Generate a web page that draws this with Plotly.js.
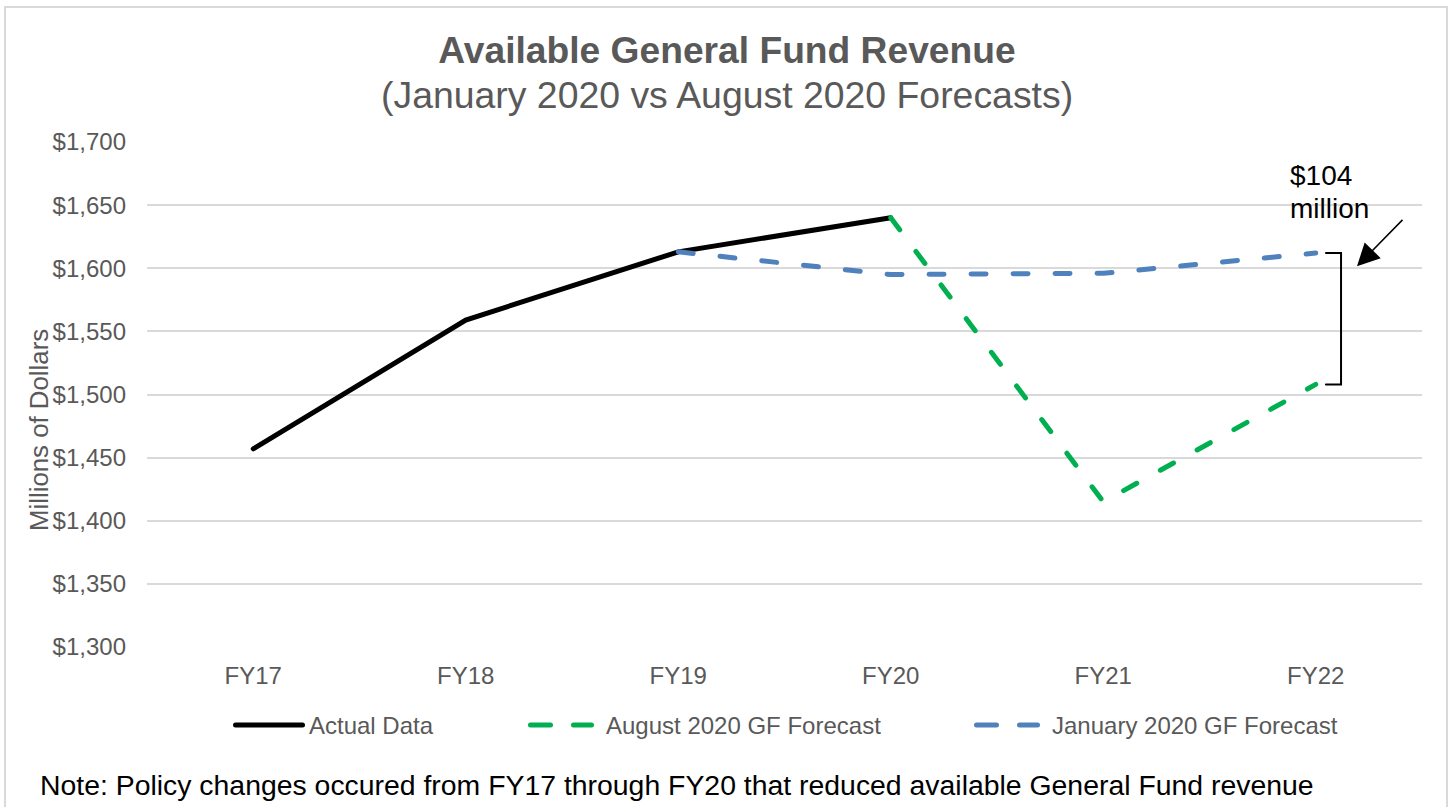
<!DOCTYPE html>
<html>
<head>
<meta charset="utf-8">
<script src="https://cdn.plot.ly/plotly-3.0.1.min.js"></script>
<style>
  html, body { margin: 0; padding: 0; background: #ffffff; }
  #chart { width: 1452px; height: 807px; }
  .scatterlayer .js-line { stroke-linecap: round; }
  .shapelayer path { stroke-linecap: round; }
</style>
</head>
<body>
<div id="chart"></div>
<script>
// ---- Data ----
var categories = ['FY17', 'FY18', 'FY19', 'FY20', 'FY21', 'FY22'];
var actualData = [1457, 1559, 1613, 1640, null, null];
var augustForecast = [null, null, null, 1640, 1415, 1508];
var januaryForecast = [null, null, 1613, 1595, 1596, 1612];
var seriesNames = ['Actual Data', 'August 2020 GF Forecast', 'January 2020 GF Forecast'];
var seriesColors = ['#000000', '#00B050', '#4F81BD'];
var titleText = 'Available General Fund Revenue';
var subtitleText = '(January 2020 vs August 2020 Forecasts)';
var yAxisTitle = 'Millions of Dollars';
var noteText = 'Note: Policy changes occured from FY17 through FY20 that reduced available General Fund revenue';
var gapUnit = 'million';

// ---- Layout geometry (pixels) ----
var W = 1452, H = 807;
var M = {l: 147, r: 30, t: 142, b: 160};
var PW = W - M.l - M.r, PH = H - M.t - M.b;
function px(x) { return (x - M.l) / PW; }
function py(y) { return (H - M.b - y) / PH; }

var dashPattern = '15px,27px';
var font = 'Liberation Sans, Arial, sans-serif';
var grey = '#595959';

var traces = [
  {x: categories, y: actualData, name: seriesNames[0], mode: 'lines',
   line: {color: seriesColors[0], width: 5}, connectgaps: false, hoverinfo: 'x+y'},
  {x: categories, y: augustForecast, name: seriesNames[1], mode: 'lines',
   line: {color: seriesColors[1], width: 5, dash: dashPattern}, hoverinfo: 'x+y'},
  {x: categories, y: januaryForecast, name: seriesNames[2], mode: 'lines',
   line: {color: seriesColors[2], width: 5, dash: dashPattern}, hoverinfo: 'x+y'}
];

var last = categories.length - 1;
var gap = januaryForecast[last] - augustForecast[last];

var shapes = [
  // outer chart border
  {type: 'rect', xref: 'paper', yref: 'paper', x0: px(5), x1: px(1447), y0: py(830), y1: py(7),
   line: {color: '#D9D9D9', width: 2}, fillcolor: 'rgba(0,0,0,0)', layer: 'below'},
  // bracket showing the gap at the last year
  {type: 'path', xref: 'x', yref: 'y',
   path: 'M ' + (last + 0.048) + ',' + januaryForecast[last] +
         ' L ' + (last + 0.119) + ',' + januaryForecast[last] +
         ' L ' + (last + 0.119) + ',' + augustForecast[last] +
         ' L ' + (last + 0.048) + ',' + augustForecast[last],
   line: {color: '#000000', width: 2}},
  // legend samples
  {type: 'line', xref: 'paper', yref: 'paper', x0: px(235.5), x1: px(302.5), y0: py(725), y1: py(725),
   line: {color: seriesColors[0], width: 5}},
  {type: 'line', xref: 'paper', yref: 'paper', x0: px(530.5), x1: px(591.5), y0: py(725), y1: py(725),
   line: {color: seriesColors[1], width: 5, dash: '20px,23px'}},
  {type: 'line', xref: 'paper', yref: 'paper', x0: px(976.5), x1: px(1037.5), y0: py(725), y1: py(725),
   line: {color: seriesColors[2], width: 5, dash: '20px,23px'}}
];

var annotations = [
  {text: subtitleText, xref: 'paper', yref: 'paper', x: px(727), y: py(95),
   xanchor: 'center', yanchor: 'middle', showarrow: false,
   font: {family: font, size: 37.4, color: grey}},
  {text: yAxisTitle, xref: 'paper', yref: 'paper', x: px(39), y: py(430), textangle: -90,
   xanchor: 'center', yanchor: 'middle', showarrow: false,
   font: {family: font, size: 25.8, color: grey}},
  // legend labels
  {text: seriesNames[0], xref: 'paper', yref: 'paper', x: px(307), y: py(725),
   xanchor: 'left', yanchor: 'middle', showarrow: false, font: {family: font, size: 24, color: grey}},
  {text: seriesNames[1], xref: 'paper', yref: 'paper', x: px(604), y: py(725),
   xanchor: 'left', yanchor: 'middle', showarrow: false, font: {family: font, size: 24, color: grey}},
  {text: seriesNames[2], xref: 'paper', yref: 'paper', x: px(1050), y: py(725),
   xanchor: 'left', yanchor: 'middle', showarrow: false, font: {family: font, size: 24, color: grey}},
  // note
  {text: noteText, xref: 'paper', yref: 'paper', x: px(38), y: py(785),
   xanchor: 'left', yanchor: 'middle', showarrow: false, font: {family: font, size: 28.4, color: '#000000'}},
  // gap label
  {text: '$' + gap, xref: 'paper', yref: 'paper', x: px(1288), y: py(176),
   xanchor: 'left', yanchor: 'middle', showarrow: false, font: {family: font, size: 28, color: '#000000'}},
  {text: gapUnit, xref: 'paper', yref: 'paper', x: px(1288), y: py(208),
   xanchor: 'left', yanchor: 'middle', showarrow: false, font: {family: font, size: 28, color: '#000000'}},
  // arrow
  {text: '', xref: 'x', yref: 'y', x: last + 0.194, y: 1601.5, ax: 47, ay: -48,
   showarrow: true, arrowhead: 2, arrowsize: 3, arrowwidth: 1.5, arrowcolor: '#000000'}
];

var layout = {
  width: W, height: H,
  margin: M,
  paper_bgcolor: '#ffffff', plot_bgcolor: '#ffffff',
  showlegend: false,
  font: {family: font, color: grey},
  title: {text: '<b>' + titleText + '</b>', x: px(727), xref: 'paper', xanchor: 'center',
          y: 1 - 50 / H, yref: 'container', yanchor: 'middle',
          font: {family: font, size: 37.2, color: grey}},
  xaxis: {type: 'category', range: [-0.5, categories.length - 0.5], showgrid: false, zeroline: false,
          showline: false, ticks: '', tickfont: {family: font, size: 24, color: grey}, ticklabelstandoff: 12,
          fixedrange: true},
  yaxis: {range: [1300, 1700], dtick: 50, tick0: 1300, tickprefix: '$', tickformat: ',d',
          showgrid: true, gridcolor: '#D9D9D9', gridwidth: 2, zeroline: false, showline: false,
          ticks: '', tickfont: {family: font, size: 24, color: grey}, ticklabelstandoff: 20,
          fixedrange: true},
  shapes: shapes,
  annotations: annotations
};

Plotly.newPlot('chart', traces, layout, {displayModeBar: false, staticPlot: true});
</script>
</body>
</html>
